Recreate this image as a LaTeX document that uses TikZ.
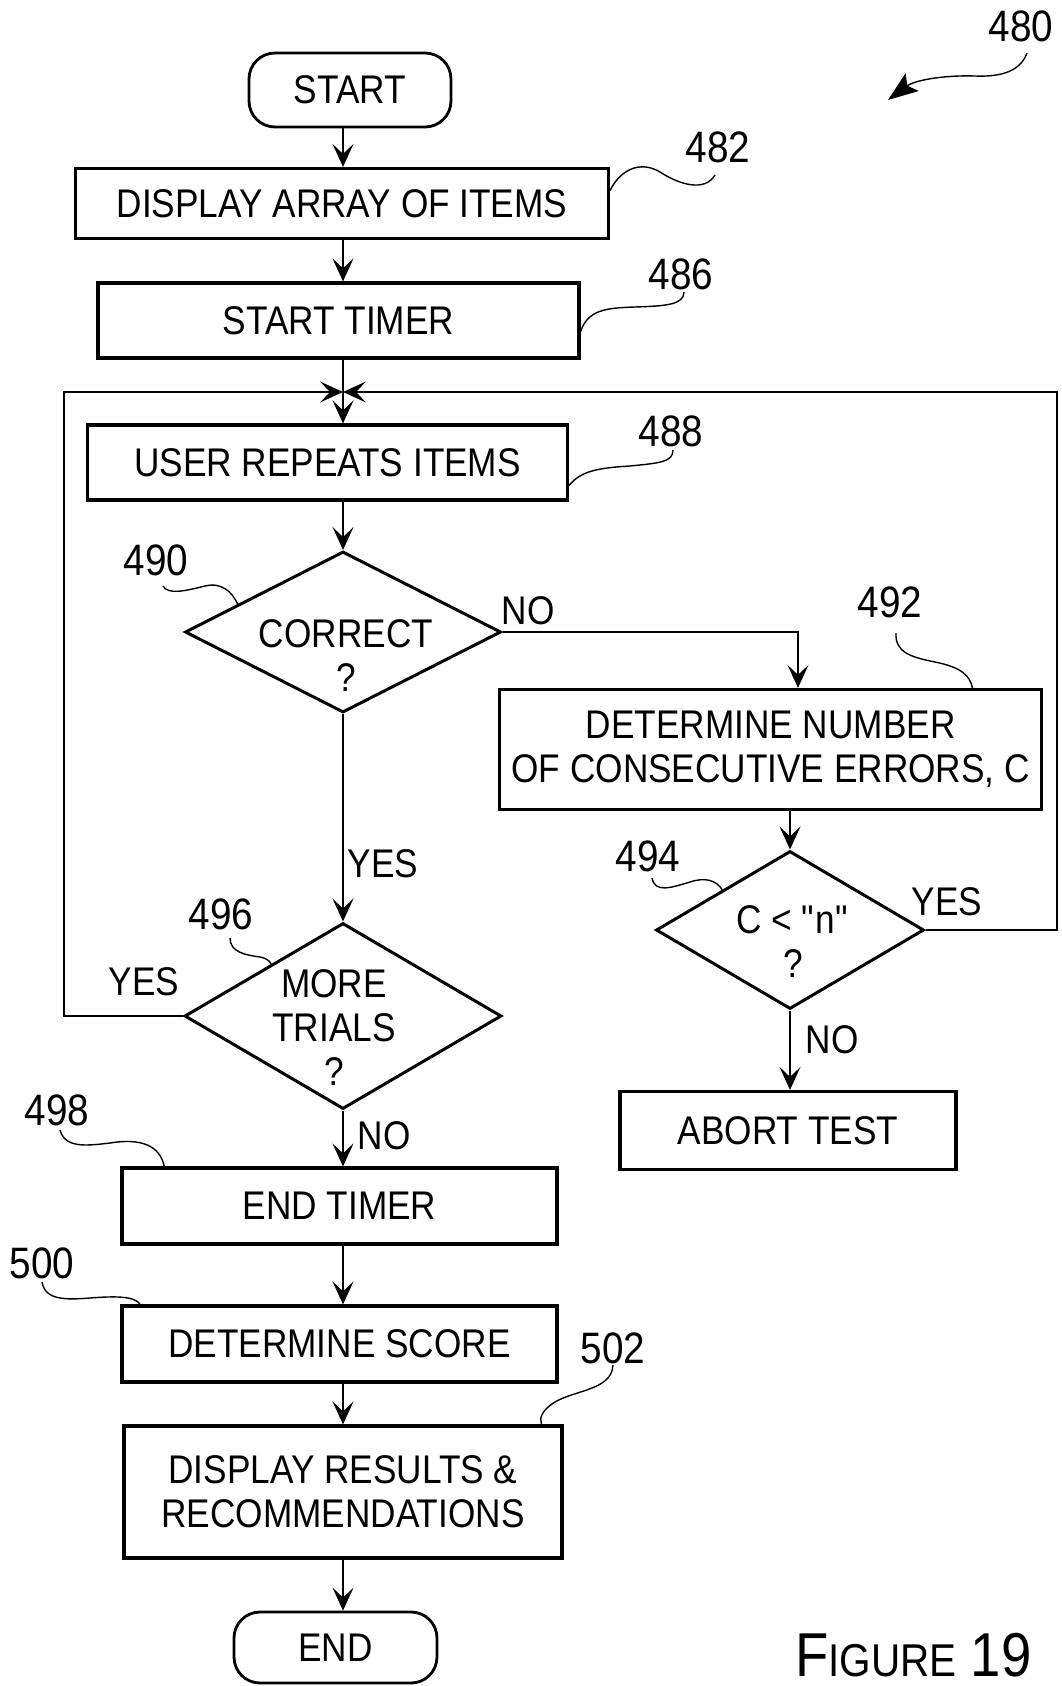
\documentclass[tikz,border=0pt]{standalone}
\usepackage{fontspec}
\setmainfont{Liberation Sans}[FakeStretch=0.88]
\usetikzlibrary{shapes.geometric,arrows.meta,calc}
\begin{document}
\begin{tikzpicture}[x=1pt,y=-1pt,
  txt/.style={font=\fontsize{40}{44}\selectfont, align=center, inner sep=0pt},
  box/.style={draw, line width=3.2pt, txt},
  term/.style={draw, line width=2.8pt, rounded corners=26pt, txt},
  dia/.style={draw, diamond, line width=3pt, inner sep=0pt},
  conn/.style={line width=1.8pt},
  arr/.style={conn, -{Stealth[length=23pt,width=21pt,inset=10pt]}},
  lead/.style={line width=1.4pt},
  num/.style={font=\fontsize{44}{44}\selectfont, inner sep=0pt},
]
\fill[white] (0,0) rectangle (1062,1686);
\useasboundingbox (0,0) rectangle (1062,1686);

% main nodes
\node[term, minimum width=202pt, minimum height=74pt] (start) at (350,90) {START};
\node[box, minimum width=533pt, minimum height=70pt] (b482) at (342,203.5) {DISPLAY ARRAY OF ITEMS};
\node[box, minimum width=481pt, minimum height=75pt] (b486) at (338.5,320.5) {START TIMER};
\node[box, minimum width=480pt, minimum height=75pt] (b488) at (327.5,462.5) {USER REPEATS ITEMS};
\node[dia, minimum width=316pt, minimum height=161pt] (d490) at (343,632) {};
\node[txt] (t490) at (346,656) {CORRECT\\?};
\node[box, minimum width=542pt, minimum height=120pt] (b492) at (770.7,749.5) {DETERMINE NUMBER\\OF CONSECUTIVE ERRORS, C};
\node[dia, minimum width=268pt, minimum height=158pt] (d494) at (790,930) {};
\node[txt] (t494) at (793,942) {C < \textquotedbl n\textquotedbl\\?};
\node[box, minimum width=336pt, minimum height=78pt] (abort) at (788,1130.5) {ABORT TEST};
\node[dia, minimum width=317pt, minimum height=186pt] (d496) at (343,1016) {};
\node[txt] (t496) at (334,1028) {MORE\\TRIALS\\?};
\node[box, minimum width=435pt, minimum height=76pt] (bet) at (339.5,1206) {END TIMER};
\node[box, minimum width=435pt, minimum height=76pt] (bds) at (339.5,1344) {DETERMINE SCORE};
\node[box, minimum width=438pt, minimum height=132pt] (bdr) at (343,1492) {DISPLAY RESULTS \&\\RECOMMENDATIONS};
\node[term, minimum width=203pt, minimum height=71pt] (endn) at (335.5,1647.5) {END};

% branch labels
\node[txt] (no490) at (528,611) {NO};
\node[txt] (yes490) at (383,864) {YES};
\node[txt] (yes494) at (947,902) {YES};
\node[txt] (no494) at (832,1040) {NO};
\node[txt] (yes496) at (144,982) {YES};
\node[txt] (no496) at (384,1136) {NO};

% helper coordinates
\coordinate (ax) at (343,0);
\coordinate (jn) at (343,392);
\coordinate (loopL) at (64,392);
\coordinate (loopR) at (1057,392);
\coordinate (nox) at (798,0);

% connectors
\draw[arr] (start.south -| ax) -- (b482.north -| ax);
\draw[arr] (b482.south -| ax) -- (b486.north -| ax);
\draw[conn] (b486.south -| ax) -- (jn);
\draw[arr] (d496.west) -| (loopL) -- (jn);
\draw[arr] (d494.east) -| (loopR) -- (jn);
\draw[arr] (jn) -- (b488.north -| ax);
\draw[arr] (b488.south -| ax) -- (d490.north);
\draw[arr] (d490.east) -| (b492.north -| nox);
\draw[arr] (b492.south -| d494.north) -- (d494.north);
\draw[arr] (d494.south) -- (abort.north -| d494.south);
\draw[arr] (d490.south) -- (d496.north);
\draw[arr] (d496.south) -- (bet.north -| d496.south);
\draw[arr] (bet.south -| ax) -- (bds.north -| ax);
\draw[arr] (bds.south -| ax) -- (bdr.north -| ax);
\draw[arr] (bdr.south -| ax) -- (endn.north -| ax);

% reference numerals
\node[num] (l480) at (1021,26) {480};
\node[num] (l482) at (718,147) {482};
\node[num] (l486) at (681,274) {486};
\node[num] (l488) at (671,431) {488};
\node[num] (l490) at (156,560) {490};
\node[num] (l492) at (890,602) {492};
\node[num] (l494) at (648,856) {494};
\node[num] (l496) at (221,914) {496};
\node[num] (l498) at (57,1110) {498};
\node[num] (l500) at (42,1263) {500};
\node[num] (l502) at (613,1348) {502};

% leader start points
\coordinate (s480) at (1027,53);
\coordinate (p480) at (888,100);
\coordinate (s482) at (715,175);
\coordinate (s486) at (684,292);
\coordinate (s488) at (673,450);
\coordinate (s490) at (163,586);
\coordinate (s492) at (896,633);
\coordinate (s494) at (652,878);
\coordinate (s496) at (230,938);
\coordinate (s498) at (60,1130);
\coordinate (s500) at (42,1282);
\coordinate (s502) at (613,1365);

% leaders
\draw[lead, -{Stealth[length=30pt,width=22pt,inset=6pt]}] (s480) .. controls (1020,72) and (1000,77) .. (975,76) .. controls (945,75) and (915,80) .. (p480);
\draw[lead] ([yshift=13pt]b482.east) .. controls (620,170) and (640,160) .. (660,172) .. controls (680,185) and (705,192) .. (s482);
\draw[lead] ([yshift=-11pt]b486.east) .. controls (588,310) and (605,308) .. (635,307) .. controls (665,306) and (684,305) .. (s486);
\draw[lead] (s488) .. controls (673,462) and (660,463) .. (630,466) .. controls (595,468) and (580,472) .. ([yshift=-23pt]b488.east);
\draw[lead] (s490) .. controls (168,595) and (185,591) .. (205,586) .. controls (222,582) and (232,592) .. ($(d490.west)!0.34!(d490.north)$);
\draw[lead] (s492) .. controls (895,652) and (910,657) .. (935,662) .. controls (960,667) and (970,675) .. ($(b492.north west)!0.87!(b492.north east)$);
\draw[lead] (s494) .. controls (655,893) and (670,888) .. (690,882) .. controls (705,877) and (716,880) .. ($(d494.west)!0.5!(d494.north)$);
\draw[lead] (s496) .. controls (230,952) and (245,955) .. (260,957) .. controls (266,958) and (270,961) .. ($(d496.west)!0.55!(d496.north)$);
\draw[lead] (s498) .. controls (65,1148) and (85,1146) .. (110,1143) .. controls (140,1138) and (160,1145) .. ($(bet.north west)!0.1!(bet.north east)$);
\draw[lead] (s500) .. controls (45,1300) and (65,1300) .. (90,1298) .. controls (115,1296) and (135,1296) .. ($(bds.north west)!0.045!(bds.north east)$);
\draw[lead] (s502) .. controls (612,1390) and (575,1390) .. (555,1402) .. controls (542,1410) and (539,1418) .. ($(bdr.north west)!0.95!(bdr.north east)$);

% figure caption
\node[anchor=base west, inner sep=0pt] (fig) at (795,1676) {{\fontsize{62}{62}\selectfont F}{\fontsize{46}{46}\selectfont IGURE}\hspace{14pt}{\fontsize{62}{62}\selectfont 19}};
\end{tikzpicture}
\end{document}
